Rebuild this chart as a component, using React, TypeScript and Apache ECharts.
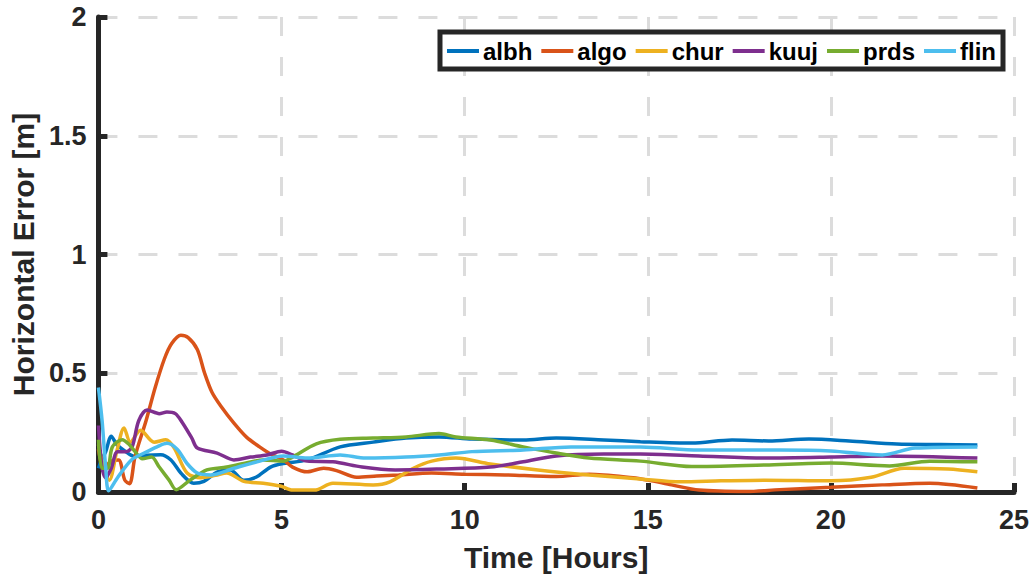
import React, { useEffect, useRef } from "react";
import * as echarts from "echarts";

const seriesNames = ["albh", "algo", "chur", "kuuj", "prds", "flin"];
const seriesColors = ["#0072BD", "#D95319", "#EDB120", "#7E2F8E", "#77AC30", "#4DBEEE"];

const xTicks = [0, 5, 10, 15, 20, 25];
const yTicks = [0, 0.5, 1, 1.5, 2];

const albh = [[0,0.10],[0.1,0.14],[0.2,0.17],[0.35,0.235],[0.5,0.2],[0.7,0.175],[0.98,0.15],[1.3,0.155],[1.7,0.157],[1.98,0.135],[2.25,0.08],[2.6,0.037],[2.88,0.045],[3.24,0.084],[3.6,0.093],[3.97,0.05],[4.3,0.062],[4.7,0.105],[5.05,0.12],[5.7,0.135],[6.6,0.19],[7.5,0.21],[8.4,0.227],[9.3,0.232],[10.2,0.223],[11.6,0.219],[12.5,0.227],[13.8,0.219],[14.8,0.212],[16.2,0.206],[17.3,0.219],[18.3,0.215],[19.4,0.223],[20.5,0.215],[21.8,0.202],[23,0.2],[24,0.198]];
const algo = [[0,0.18],[0.15,0.1],[0.35,0.13],[0.55,0.135],[0.72,0.05],[0.85,0.035],[1.0,0.15],[1.3,0.3],[1.55,0.44],[1.8,0.56],[2.0,0.625],[2.25,0.66],[2.45,0.65],[2.7,0.6],[2.9,0.5],[3.1,0.42],[3.35,0.36],[3.7,0.29],[4.05,0.23],[4.4,0.19],[4.7,0.16],[5.05,0.135],[5.3,0.105],[5.7,0.085],[6.15,0.1],[6.5,0.09],[7.05,0.062],[7.6,0.067],[8.2,0.072],[9.1,0.08],[10,0.075],[11.1,0.072],[12.5,0.065],[13.4,0.075],[14.6,0.06],[15,0.05],[15.65,0.03],[16.4,0.008],[17.7,0.002],[18.6,0.01],[20,0.02],[21.4,0.03],[22.7,0.037],[24,0.017]];
const chur = [[0,0.2],[0.12,0.12],[0.3,0.05],[0.5,0.17],[0.7,0.27],[0.87,0.21],[1.15,0.26],[1.52,0.21],[1.84,0.22],[2.07,0.185],[2.42,0.08],[2.8,0.06],[3.2,0.07],[3.5,0.08],[3.97,0.045],[4.5,0.037],[4.97,0.025],[5.3,0.008],[5.9,0.008],[6.4,0.037],[7.5,0.03],[7.96,0.043],[8.6,0.1],[9.1,0.13],[9.76,0.143],[10.7,0.118],[12,0.093],[13.4,0.072],[14.8,0.055],[15.9,0.043],[17,0.047],[18.2,0.05],[20,0.047],[21.1,0.062],[22,0.1],[23.2,0.097],[24,0.085]];
const kuuj = [[0,0.28],[0.1,0.1],[0.2,0.06],[0.35,0.1],[0.52,0.17],[0.75,0.17],[0.92,0.19],[1.1,0.3],[1.33,0.345],[1.66,0.33],[1.87,0.337],[2.1,0.33],[2.28,0.295],[2.55,0.227],[2.7,0.185],[3.24,0.164],[3.7,0.135],[4.15,0.147],[4.6,0.156],[5.0,0.172],[5.3,0.156],[5.7,0.13],[6.4,0.127],[7.2,0.105],[8.1,0.093],[9.3,0.097],[10.7,0.105],[11.6,0.127],[12.5,0.152],[13.8,0.16],[14.8,0.16],[16.4,0.152],[18.2,0.143],[20,0.147],[21.4,0.152],[24,0.143]];
const prds = [[0,0.22],[0.1,0.1],[0.25,0.1],[0.38,0.19],[0.65,0.22],[0.84,0.2],[1.0,0.17],[1.2,0.14],[1.45,0.147],[1.66,0.105],[1.93,0.05],[2.12,0.01],[2.5,0.05],[2.96,0.093],[3.5,0.105],[3.97,0.12],[4.5,0.135],[5.05,0.13],[5.3,0.147],[5.95,0.203],[6.6,0.222],[7.5,0.227],[8.4,0.232],[9.3,0.246],[9.76,0.232],[10.7,0.219],[11.6,0.19],[12.5,0.164],[13.4,0.143],[14.8,0.13],[16.2,0.107],[18.2,0.114],[20,0.122],[21.6,0.11],[22.7,0.13],[24,0.127]];
const flin = [[0,0.44],[0.1,0.3],[0.2,0.1],[0.28,0.005],[0.52,0.06],[0.9,0.135],[1.25,0.164],[1.6,0.19],[1.87,0.205],[2.15,0.18],[2.42,0.12],[2.7,0.08],[3.07,0.072],[3.7,0.1],[4.33,0.127],[5.05,0.152],[5.7,0.143],[6.6,0.156],[7.3,0.143],[8.4,0.147],[9.3,0.156],[10.2,0.17],[11.6,0.177],[12.9,0.19],[14.8,0.19],[16.4,0.177],[18.6,0.177],[20,0.173],[21.4,0.156],[22.3,0.185],[24,0.19]];

const seriesData = [albh, algo, chur, kuuj, prds, flin];

const FONT = "'Liberation Sans', Arial, Helvetica, sans-serif";
const INK = "#262626";

export default function App() {
  const ref = useRef<HTMLDivElement>(null);
  useEffect(() => {
    if (!ref.current) return;
    const chart = echarts.init(ref.current, undefined, { renderer: "svg" });
    chart.setOption({
      animation: false,
      backgroundColor: "#ffffff",
      grid: { left: 94, right: 20, top: 17, bottom: 86, containLabel: false },
      legend: {
        data: seriesNames,
        right: 31,
        top: 32,
        orient: "horizontal",
        icon: "rect",
        itemWidth: 32,
        itemHeight: 4,
        itemGap: 9,
        padding: [7, 7, 6, 7],
        borderColor: INK,
        borderWidth: 5,
        backgroundColor: "#ffffff",
        textStyle: { fontFamily: FONT, fontWeight: "bold", fontSize: 24, color: "#000000", padding: [0, 0, 0, -1] },
      },
      xAxis: {
        type: "value",
        min: xTicks[0],
        max: xTicks[xTicks.length - 1],
        interval: 5,
        name: "Time [Hours]",
        nameLocation: "middle",
        nameGap: 50,
        nameTextStyle: { fontFamily: FONT, fontWeight: "bold", fontSize: 30, color: INK },
        axisLine: { show: true, lineStyle: { color: INK, width: 5 } },
        axisTick: { show: true, inside: true, length: 9, lineStyle: { color: INK, width: 5 } },
        axisLabel: { fontFamily: FONT, fontWeight: "bold", fontSize: 27, color: INK, margin: 14 },
        splitLine: { show: true, lineStyle: { color: "#dcdcdc", width: 3, type: [19, 21] } },
      },
      yAxis: {
        type: "value",
        min: yTicks[0],
        max: yTicks[yTicks.length - 1],
        interval: 0.5,
        name: "Horizontal Error [m]",
        nameLocation: "middle",
        nameRotate: 90,
        nameGap: 56,
        nameTextStyle: { fontFamily: FONT, fontWeight: "bold", fontSize: 30, color: INK },
        axisLine: { show: true, lineStyle: { color: INK, width: 5 } },
        axisTick: { show: true, inside: true, length: 9, lineStyle: { color: INK, width: 5 } },
        axisLabel: { fontFamily: FONT, fontWeight: "bold", fontSize: 27, color: INK, margin: 12 },
        splitLine: { show: true, lineStyle: { color: "#dcdcdc", width: 3, type: [19, 21] } },
      },
      series: seriesNames.map((n, i) => ({
        name: n,
        type: "line",
        data: seriesData[i],
        showSymbol: false,
        symbol: "none",
        smooth: 0.3,
        color: seriesColors[i],
        lineStyle: { width: 3.5, color: seriesColors[i] },
        z: 2 + i,
      })),
    });
    return () => chart.dispose();
  }, []);
  return (
    <div
      ref={ref}
      style={{ position: "fixed", left: 0, top: 0, width: 1034, height: 578, background: "#fff" }}
    />
  );
}
